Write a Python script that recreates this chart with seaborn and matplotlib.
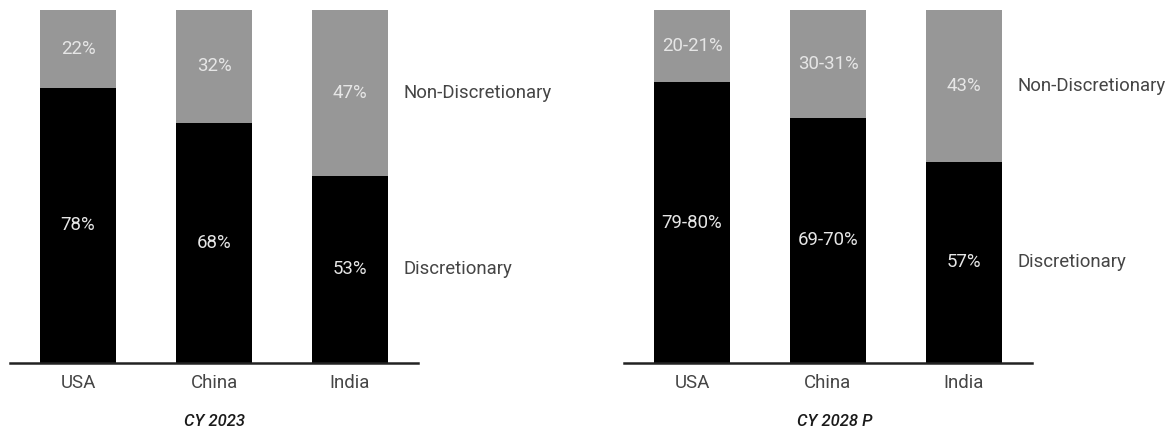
import matplotlib
matplotlib.use("Agg")
import matplotlib.pyplot as plt
import seaborn as sns
import pandas as pd

countries = ["USA", "China", "India"]
disc_2023 = [78, 68, 53]
nondisc_2023 = [22, 32, 47]
disc_labels_2023 = ["78%", "68%", "53%"]
nondisc_labels_2023 = ["22%", "32%", "47%"]

disc_2028 = [79.5, 69.5, 57]
nondisc_2028 = [20.5, 30.5, 43]
disc_labels_2028 = ["79-80%", "69-70%", "57%"]
nondisc_labels_2028 = ["20-21%", "30-31%", "43%"]

panel_titles = ["CY 2023", "CY 2028 P"]
title_x = [0.5, 0.517]
series_names = ["Discretionary", "Non-Discretionary"]

sns.set_theme(style="white")
plt.rcParams["font.family"] = ["Roboto", "DejaVu Sans"]

BLACK = "#000000"
GRAY = "#979797"
TXT = "#454545"
LBL = "#e6e6e6"
FS = 13.4

fig = plt.figure(figsize=(11.75, 4.34), dpi=100)
axes = [fig.add_axes([10 / 1175, 1 - 363 / 434, 408 / 1175, 353 / 434]),
        fig.add_axes([624 / 1175, 1 - 363 / 434, 408 / 1175, 353 / 434])]

panels = [
    (disc_2023, nondisc_2023, disc_labels_2023, nondisc_labels_2023),
    (disc_2028, nondisc_2028, disc_labels_2028, nondisc_labels_2028),
]

for ax, (disc, nond, dl, nl), title, tx in zip(axes, panels, panel_titles, title_x):
    df = pd.DataFrame({"country": countries, "disc": disc, "nondisc": nond})
    df["total"] = df["disc"] + df["nondisc"]
    sns.barplot(data=df, x="country", y="total", color=GRAY, width=0.56,
                saturation=1, ax=ax, linewidth=0, order=countries)
    sns.barplot(data=df, x="country", y="disc", color=BLACK, width=0.56,
                saturation=1, ax=ax, linewidth=0, order=countries)
    ax.set_xlim(-0.5, 2.5)
    ax.set_ylim(0, 100)
    for i in range(len(countries)):
        ax.text(i, disc[i] / 2, dl[i], ha="center", va="center", color=LBL,
                fontsize=FS, fontweight="normal")
        ax.text(i, disc[i] + nond[i] / 2, nl[i], ha="center", va="center",
                color=LBL, fontsize=FS, fontweight="normal")
    last = len(countries) - 1
    ax.text(last + 0.395, disc[last] / 2, series_names[0], ha="left", va="center",
            color=TXT, fontsize=FS, fontweight="normal", clip_on=False)
    ax.text(last + 0.395, disc[last] + nond[last] / 2, series_names[1], ha="left",
            va="center", color=TXT, fontsize=FS, fontweight="normal", clip_on=False)
    for s in ["top", "right", "left"]:
        ax.spines[s].set_visible(False)
    ax.spines["bottom"].set_color("#222222")
    ax.spines["bottom"].set_linewidth(1.8)
    ax.set_yticks([])
    ax.set_ylabel("")
    ax.set_xlabel("")
    ax.tick_params(axis="x", length=0, pad=8, labelsize=FS, labelcolor=TXT)
    for t in ax.get_xticklabels():
        t.set_fontweight("normal")
    ax.text(tx, -0.165, title, transform=ax.transAxes, ha="center", va="center",
            fontsize=12, fontstyle="italic", fontweight="medium", color="#1a1a1a")

fig.savefig("out.png", dpi=100, facecolor="white")
